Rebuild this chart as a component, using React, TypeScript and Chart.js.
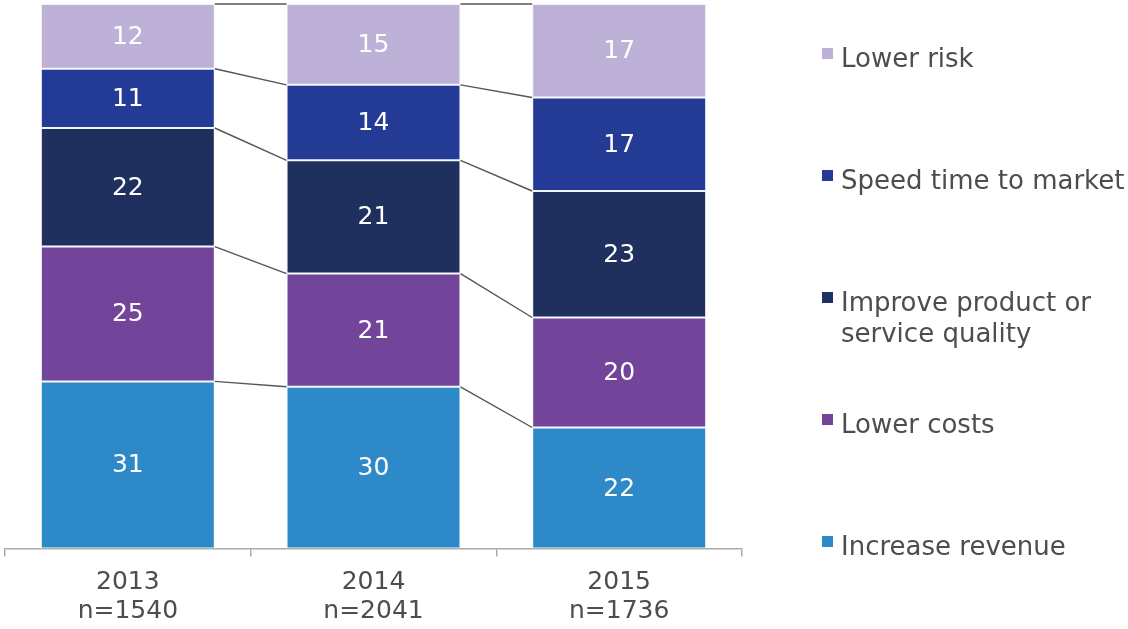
import React, { useEffect, useRef } from 'react';
import { Chart, registerables } from 'chart.js';

Chart.register(...registerables);

const years = ['2013', '2014', '2015'];
const sampleSizes = ['n=1540', 'n=2041', 'n=1736'];
const seriesNames = [
  'Increase revenue',
  'Lower costs',
  'Improve product or service quality',
  'Speed time to market',
  'Lower risk',
];
const increaseRevenue = [31, 30, 22];
const lowerCosts = [25, 21, 20];
const improveQuality = [22, 21, 23];
const speedToMarket = [11, 14, 17];
const lowerRisk = [12, 15, 17];
const seriesColors = ['#2E89C8', '#72459B', '#1F2F5E', '#233B95', '#BDB1D7'];

const FONT = '"DejaVu Sans", sans-serif';
const TEXT = '#4d4d4d';

const seriesValues = [increaseRevenue, lowerCosts, improveQuality, speedToMarket, lowerRisk];
const totals = years.map((_, i) => seriesValues.reduce((s, arr) => s + arr[i], 0));

const connectorPlugin = {
  id: 'connectors',
  afterDatasetsDraw(chart: any) {
    const ctx = chart.ctx;
    ctx.save();
    ctx.strokeStyle = '#555555';
    ctx.lineWidth = 1.4;
    chart.data.datasets.forEach((_: any, d: number) => {
      const meta = chart.getDatasetMeta(d);
      for (let i = 0; i < meta.data.length - 1; i++) {
        const a = meta.data[i];
        const b = meta.data[i + 1];
        ctx.beginPath();
        ctx.moveTo(a.x + a.width / 2, a.y);
        ctx.lineTo(b.x - b.width / 2, b.y);
        ctx.stroke();
      }
    });
    ctx.restore();
  },
};

const valueLabelPlugin = {
  id: 'valueLabels',
  afterDatasetsDraw(chart: any) {
    const ctx = chart.ctx;
    ctx.save();
    ctx.fillStyle = '#ffffff';
    ctx.font = `25px ${FONT}`;
    ctx.textAlign = 'center';
    ctx.textBaseline = 'middle';
    chart.data.datasets.forEach((ds: any, d: number) => {
      const meta = chart.getDatasetMeta(d);
      meta.data.forEach((el: any, i: number) => {
        const cy = (el.y + el.base) / 2;
        ctx.fillText(String(ds.rawValues[i]), el.x, cy + 1);
      });
    });
    ctx.restore();
  },
};

const sideLegendPlugin = {
  id: 'sideLegend',
  afterDraw(chart: any) {
    const ctx = chart.ctx;
    const area = chart.chartArea;
    const x0 = area.right + 80;
    ctx.save();
    ctx.font = `26px ${FONT}`;
    ctx.textBaseline = 'alphabetic';
    ctx.textAlign = 'left';
    const order = seriesNames.map((_, i) => i).reverse();
    order.forEach((si, k) => {
      const baseline = area.top + 63 + k * 122;
      ctx.fillStyle = seriesColors[si];
      ctx.fillRect(x0, baseline - 19, 11, 11);
      const words = seriesNames[si].split(' ');
      const lines: string[] = [];
      let cur = '';
      words.forEach((w) => {
        const test = cur ? cur + ' ' + w : w;
        if (ctx.measureText(test).width > 292 && cur) {
          lines.push(cur);
          cur = w;
        } else cur = test;
      });
      if (cur) lines.push(cur);
      ctx.fillStyle = TEXT;
      lines.forEach((ln, li) => ctx.fillText(ln, x0 + 19, baseline + li * 31));
    });
    ctx.restore();
  },
};

export default function App() {
  const ref = useRef<HTMLCanvasElement>(null);
  useEffect(() => {
    if (!ref.current) return;
    const chart = new Chart(ref.current, {
      type: 'bar',
      data: {
        labels: years.map((y, i) => [y, sampleSizes[i]]),
        datasets: seriesNames.map((name, s) => ({
          label: name,
          data: seriesValues[s].map((v, i) => (v / totals[i]) * 100),
          rawValues: seriesValues[s],
          backgroundColor: seriesColors[s],
          borderColor: 'rgba(240,244,250,0.9)',
          borderWidth: 1,
          borderSkipped: false,
          categoryPercentage: 1,
          barPercentage: 0.708,
        })) as any,
      },
      options: {
        animation: false,
        responsive: true,
        maintainAspectRatio: false,
        layout: { padding: { left: 5, right: 386, top: 4, bottom: -9 } },
        plugins: { legend: { display: false }, tooltip: { enabled: false } },
        scales: {
          x: {
            stacked: true,
            grid: {
              display: true,
              drawOnChartArea: false,
              drawTicks: true,
              tickLength: 8,
              color: '#aaaaaa',
              lineWidth: 1.5,
              offset: true,
            },
            border: { display: true, color: '#aaaaaa', width: 1.5 },
            ticks: {
              color: TEXT,
              padding: 12,
              font: { family: FONT, size: 25, lineHeight: 1.15 },
              maxRotation: 0,
            },
          },
          y: { stacked: true, display: false, min: 0, max: 100 },
        },
      },
      plugins: [connectorPlugin, valueLabelPlugin, sideLegendPlugin],
    });
    return () => chart.destroy();
  }, []);
  return (
    <div style={{ position: 'absolute', left: 0, top: 0, width: 1128, height: 629, background: '#fff' }}>
      <canvas ref={ref} />
    </div>
  );
}
